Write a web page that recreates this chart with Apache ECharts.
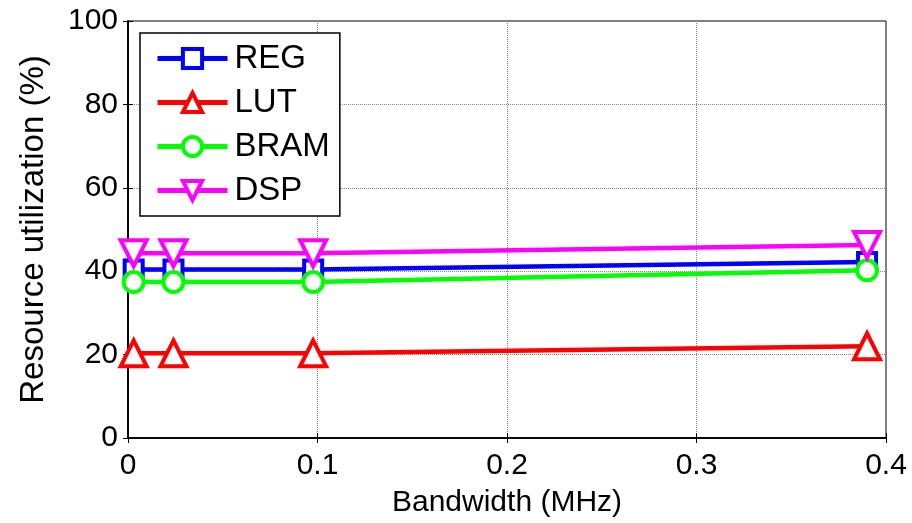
<!DOCTYPE html>
<html lang="en">
<head>
  <meta charset="UTF-8">
  <title>Resource utilization</title>
  <style>
    html, body { margin: 0; padding: 0; background: #fff; }
  </style>
</head>
<body>
<div id="main" style="width: 912px;height:523px;"></div>
<script src="https://cdn.jsdelivr.net/npm/echarts@6/dist/echarts.min.js"></script>
<script type="text/javascript">
  // bandwidth in MHz
  const bandwidth = [0.003, 0.024, 0.0977, 0.39]
  const reg = [40.4, 40.4, 40.4, 42.2]
  const lut = [20.3, 20.3, 20.3, 22.0]
  const bram = [37.4, 37.4, 37.4, 40.2]
  const dsp = [44.3, 44.3, 44.3, 46.3]

  const font = 'Liberation Sans, Arial, sans-serif'

  const pairs = (ys) => bandwidth.map((x, i) => [x, ys[i]])

  const mkSeries = (name, ys, color, symbol, size, rotate) => ({
    name: name,
    type: 'line',
    data: pairs(ys),
    symbol: symbol,
    symbolSize: size,
    symbolRotate: rotate || 0,
    showAllSymbol: true,
    lineStyle: { color: color, width: 4.5 },
    itemStyle: { color: '#fff', borderColor: color, borderWidth: 4 },
    emphasis: { disabled: true },
    animation: false
  })

  const Chart = echarts.init(document.getElementById('main'))

  const option = {
    animation: false,
    textStyle: { fontFamily: font },
    grid: {
      left: 128, right: 26, top: 21, bottom: 83,
      show: true, borderColor: '#000', borderWidth: 1
    },
    legend: {
      orient: 'vertical',
      left: 140,
      top: 33,
      padding: [9, 10, 9, 15],
      backgroundColor: '#fff',
      borderColor: '#000',
      borderWidth: 1.5,
      itemWidth: 70,
      itemHeight: 24,
      itemGap: 11,
      lineStyle: { width: 5 },
      itemStyle: { borderWidth: 4 },
      textStyle: { fontFamily: font, fontSize: 33, color: '#000', lineHeight: 33, padding: [0, 0, 0, 2] },
      data: ['REG', 'LUT', 'BRAM', 'DSP']
    },
    xAxis: [{
      type: 'value',
      min: 0, max: 0.4, interval: 0.1,
      name: 'Bandwidth (MHz)',
      nameLocation: 'middle',
      nameGap: 50,
      nameTextStyle: { fontFamily: font, fontSize: 30, color: '#000' },
      axisLine: { show: true, onZero: false, lineStyle: { color: '#000', width: 1.5 } },
      axisTick: { show: true, inside: true, length: 5, lineStyle: { color: '#000' } },
      axisLabel: { fontFamily: font, fontSize: 30, color: '#000', margin: 13 },
      splitLine: { show: true, lineStyle: { color: '#888', type: 'dotted', width: 1 } }
    }, {
      type: 'value',
      position: 'top',
      min: 0, max: 0.4, interval: 0.1,
      axisLine: { show: true, lineStyle: { color: '#000', width: 1.5 } },
      axisTick: { show: true, inside: true, length: 5, lineStyle: { color: '#000' } },
      axisLabel: { show: false },
      splitLine: { show: false }
    }],
    yAxis: [{
      type: 'value',
      min: 0, max: 100, interval: 20,
      name: 'Resource utilization (%)',
      nameLocation: 'middle',
      nameGap: 78,
      nameRotate: 90,
      nameTextStyle: { fontFamily: font, fontSize: 33, color: '#000' },
      axisLine: { show: true, onZero: false, lineStyle: { color: '#000', width: 1.5 } },
      axisTick: { show: true, inside: true, length: 5, lineStyle: { color: '#000' } },
      axisLabel: { fontFamily: font, fontSize: 30, color: '#000', margin: 10 },
      splitLine: { show: true, lineStyle: { color: '#888', type: 'dotted', width: 1 } }
    }, {
      type: 'value',
      position: 'right',
      min: 0, max: 100, interval: 20,
      axisLine: { show: true, lineStyle: { color: '#000', width: 1.5 } },
      axisTick: { show: true, inside: true, length: 5, lineStyle: { color: '#000' } },
      axisLabel: { show: false },
      splitLine: { show: false }
    }],
    series: [
      mkSeries('REG', reg, '#0000ff', 'rect', 18),
      mkSeries('LUT', lut, '#ff0000', 'triangle', 26),
      mkSeries('BRAM', bram, '#00ff00', 'circle', 20),
      mkSeries('DSP', dsp, '#ff00ff', 'triangle', 26, 180)
    ]
  }

  Chart.setOption(option)
</script>
</body>
</html>
